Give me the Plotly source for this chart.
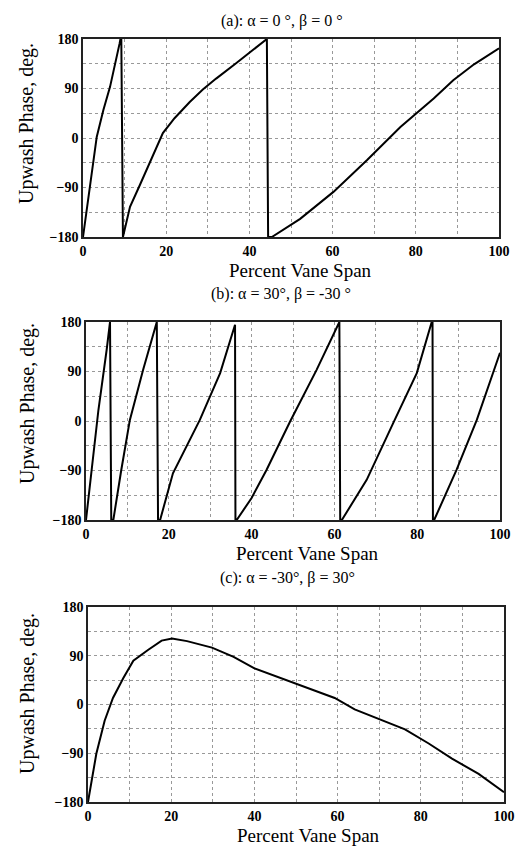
import plotly.graph_objects as go

# Panel (a): alpha = 0, beta = 0
xa = [0, 1.5, 3.3, 4.9, 6.5, 8.8, 9.2, 9.6, 11.3, 13.7, 16.0, 19.2, 22, 25.6, 28.8, 32, 36.8, 40, 44.2, 44.5,
      45.4, 52.2, 60.2, 68.3, 76.3, 84.3, 89, 94, 100]
ya = [-180, -95, 2, 51, 93, 172, 188, -180, -125, -85, -46, 9, 36, 65, 88, 108, 136, 155, 180, -180,
      -180, -147, -98, -40, 20, 72, 105, 134, 163]

# Panel (b): alpha = 30, beta = -30
xb = [0, 1, 3, 5, 5.8, 6.1, 6.6, 8.5, 10.6, 13.8, 17.1, 17.4, 17.9, 21, 27.5, 32.4, 36, 36.1,
      36.4, 40, 43.6, 49.3, 55.7, 61.2, 61.4, 61.8, 67.8, 74.2, 79.9, 83.7, 83.8,
      84.1, 89.5, 94.4, 100]
yb = [-180, -110, 20, 130, 180, -180, -180, -90, 2, 93, 180, -180, -180, -95, 2, 87, 175, -180,
      -180, -140, -89, -1, 93, 180, -180, -180, -107, -4, 87, 185, -180,
      -180, -89, 2, 124]

# Panel (c): alpha = -30, beta = 30
xc = [0, 2, 4, 6, 8.5, 10.9, 14.5, 17.7, 20.2, 23.8, 29.8, 35, 39.9, 45.6, 49.6, 53.6, 59.3,
      64.1, 69, 76.2, 81.9, 87.5, 93.9, 100]
yc = [-180, -91, -30, 12, 49, 81, 101, 118, 122, 117, 105, 88, 67, 51, 40, 29, 12,
      -9, -24, -46, -72, -100, -128, -162]

titles = ["(a): α = 0 °, β = 0 °", "(b): α = 30°, β = -30 °", "(c): α = -30°, β = 30°"]
xtick_vals = [0, 20, 40, 60, 80, 100]
ytick_vals = [-180, -90, 0, 90, 180]

W, H = 525, 846
# pixel boxes (left, right, top, bottom)
boxes = [(83, 499, 39, 237), (86, 500, 322, 520), (88, 504, 607, 802)]
# text positions in pixels: (title x, title y, xlabel x, xlabel y, ylabel y)
textpos = [(282, 21, 300, 270, 124), (281, 294, 307, 553, 404), (287, 578, 308, 835, 694)]
FONT = "Liberation Serif"

fig = go.Figure()
data = [(xa, ya), (xb, yb), (xc, yc)]
annotations = []
for i, ((x, y), (l, r, t, b), (tx, ty, xx, xy, yy)) in enumerate(zip(data, boxes, textpos)):
    n = "" if i == 0 else str(i + 1)
    fig.add_trace(go.Scatter(x=x, y=y, mode="lines", line=dict(color="black", width=2),
                             xaxis="x" + n, yaxis="y" + n, showlegend=False))
    axcommon = dict(showline=True, linecolor="#222", linewidth=1.5, mirror=True,
                    showgrid=True, gridcolor="#999", griddash="dot", gridwidth=1,
                    zeroline=False, ticks="", automargin=False,
                    tickfont=dict(family=FONT, size=14, color="black", weight="bold"))
    fig.update_layout(**{
        "xaxis" + n: dict(domain=[l / W, r / W], anchor="y" + n, range=[0, 100],
                          tickvals=xtick_vals,
                          minor=dict(dtick=10, tick0=0, showgrid=True, gridcolor="#999",
                                     griddash="dot", gridwidth=1),
                          **axcommon),
        "yaxis" + n: dict(domain=[1 - b / H, 1 - t / H], anchor="x" + n, range=[-180, 180],
                          tickvals=ytick_vals,
                          minor=dict(dtick=45, tick0=0, showgrid=True, gridcolor="#999",
                                     griddash="dot", gridwidth=1),
                          **axcommon),
    })
    annotations.append(dict(text=titles[i], x=tx / W, y=1 - ty / H, xref="paper", yref="paper",
                            xanchor="center", yanchor="middle", showarrow=False,
                            font=dict(family=FONT, size=16, color="black")))
    annotations.append(dict(text="Percent Vane Span", x=xx / W, y=1 - xy / H,
                            xref="paper", yref="paper", xanchor="center", yanchor="middle",
                            showarrow=False, font=dict(family=FONT, size=19, color="black")))
    annotations.append(dict(text="Upwash Phase, deg.", x=27 / W, y=1 - yy / H,
                            xref="paper", yref="paper", xanchor="center", yanchor="middle",
                            showarrow=False, textangle=-90,
                            font=dict(family=FONT, size=20, color="black")))

fig.update_layout(width=W, height=H, margin=dict(l=0, r=0, t=0, b=0, autoexpand=False),
                  plot_bgcolor="white", paper_bgcolor="white", annotations=annotations)
fig.write_html("out.html")
